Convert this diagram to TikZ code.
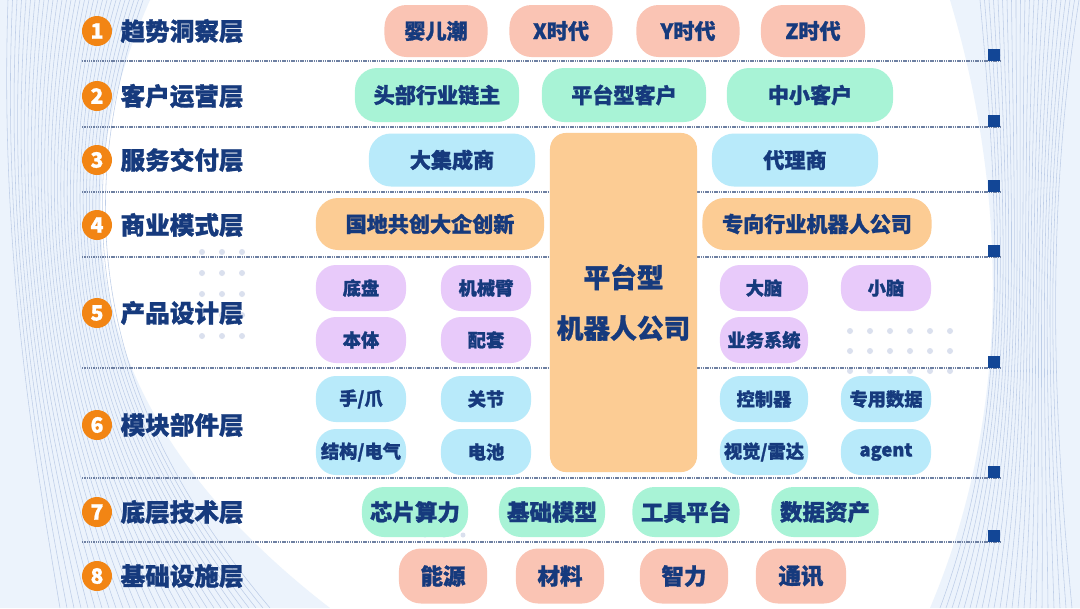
\documentclass[tikz,border=0pt]{standalone}
\usepackage{fontspec}
\setmainfont{Noto Sans CJK SC}[BoldFeatures={FakeBold=1.2}]
\usepackage{tikz}
\usetikzlibrary{positioning}
\definecolor{mynavy}{RGB}{22,58,125}
\definecolor{myorange}{RGB}{242,133,20}
\definecolor{mysalmon}{RGB}{250,196,180}
\definecolor{mymint}{RGB}{168,243,214}
\definecolor{mysky}{RGB}{184,234,250}
\definecolor{mypeach}{RGB}{252,204,148}
\definecolor{mylilac}{RGB}{232,202,250}
\definecolor{mysep}{RGB}{110,128,162}
\definecolor{mysquare}{RGB}{18,70,150}
\definecolor{mydeco}{RGB}{236,243,252}
\definecolor{mydecoline}{RGB}{190,206,232}
\definecolor{mydot}{RGB}{218,224,238}
\tikzset{
  numcirc/.style={circle, fill=myorange, text=white, minimum size=0.75cm,
    inner sep=0pt, font=\fontsize{15pt}{15pt}\selectfont\bfseries},
  layertext/.style={inner sep=0pt, text=mynavy,
    font=\fontsize{17.5pt}{20pt}\selectfont\bfseries},
  pill/.style={rectangle, rounded corners=0.55cm, minimum height=1.3cm,
    inner sep=0pt, text=mynavy, font=\fontsize{15pt}{18pt}\selectfont\bfseries},
  small/.style={pill, rounded corners=0.5cm, minimum width=2.25cm,
    minimum height=1.15cm, font=\fontsize{13pt}{15pt}\selectfont\bfseries},
  core/.style={rectangle, rounded corners=0.4cm, fill=mypeach, inner sep=0pt,
    minimum width=3.675cm, minimum height=8.475cm, align=center, text=mynavy,
    font=\fontsize{19pt}{36pt}\selectfont\bfseries},
  sepline/.style={mysep, line width=0.9pt, dash pattern=on 1pt off 0.6pt},
  decoline/.style={mydecoline, line width=0.4pt}
}

\begin{document}
\begin{tikzpicture}[x=0.025cm, y=-0.025cm]
  \useasboundingbox (0,0) rectangle (1080,608);

  % Background
  \fill[white] (0,0) rectangle (1080,608);
  \fill[mydeco] (0,0) -- (150,0) .. controls (70,180) and (60,400) .. (330,608) -- (0,608) -- cycle;
  \fill[mydeco] (1080,0) -- (950,0) .. controls (1010,200) and (1010,420) .. (930,608) -- (1080,608) -- cycle;
  \foreach \i in {0,...,30}
    \draw[decoline] (8+\i*4.5,0) .. controls (\i*2,240) and (30+\i*3,430) .. (60+\i*7,608);
  \foreach \i in {0,...,22}
    \draw[decoline] (980+\i*4.5,0) .. controls (1000+\i*2,220) and (1010+\i*2,420) .. (940+\i*6,608);

  % Dot grids
  \foreach \i in {0,1,2}
    \foreach \j in {0,...,4}
      \fill[mydot] (202+\i*20,252+\j*21) circle (3);
  \foreach \i in {0,...,5}
    \foreach \j in {0,1,2}
      \fill[mydot] (850+\i*20,331+\j*20) circle (3);
  \foreach \i in {0,1,2}
    \foreach \j in {0,...,4}
      \fill[mydot] (425+\i*19,514+\j*21) circle (2.5);

  % Separators
  \foreach \y in {61,127,192,257,368,478,542} {
    \draw[sepline] (82,\y) -- (1000,\y);
    \fill[mysquare] (988,\y) rectangle (1000,\y-12);
  }

  % Layer labels
  \foreach \n/\t/\y in {1/趋势洞察层/31, 2/客户运营层/96, 3/服务交付层/160,
      4/商业模式层/225, 5/产品设计层/313, 6/模块部件层/425, 7/底层技术层/512,
      8/基础设施层/576} {
    \node[numcirc] (n\n) at (97,\y) {\n};
    \node[layertext, right=0.2cm of n\n] (l\n) {\t};
  }

  % Core
  \node[core] (core) at (623.5,302.5) {平台型\\机器人公司};

  % Row 1
  \node[pill, fill=mysalmon, minimum width=2.575cm] (boom) at (436,31) {婴儿潮};
  \node[pill, fill=mysalmon, minimum width=2.575cm] (genx) at (561,31) {X时代};
  \node[pill, fill=mysalmon, minimum width=2.575cm] (geny) at (688,31) {Y时代};
  \node[pill, fill=mysalmon, minimum width=2.6cm] (genz) at (813,31) {Z时代};

  % Row 2
  \node[pill, fill=mymint, minimum width=4.1cm, minimum height=1.35cm] (chain) at (437,95) {头部行业链主};
  \node[pill, fill=mymint, minimum width=4.1cm, minimum height=1.35cm] (platc) at (624,95) {平台型客户};
  \node[pill, fill=mymint, minimum width=4.15cm, minimum height=1.35cm] (smec) at (810,95) {中小客户};

  % Row 3
  \node[pill, fill=mysky, minimum width=4.15cm, minimum height=1.325cm] (integ) at (452,160) {大集成商};
  \node[pill, fill=mysky, minimum width=4.15cm, minimum height=1.325cm] (agency) at (795,160) {代理商};

  % Row 4
  \node[pill, fill=mypeach, minimum width=5.7cm] (jointv) at (430,224) {国地共创大企创新};
  \node[pill, fill=mypeach, minimum width=5.725cm] (vert) at (817,224) {专向行业机器人公司};

  % Row 5
  \node[small, fill=mylilac] (chassis) at (361,288) {底盘};
  \node[small, fill=mylilac] (arm) at (486,288) {机械臂};
  \node[small, fill=mylilac] (body) at (361,340) {本体};
  \node[small, fill=mylilac] (kit) at (486,340) {配套};
  \node[small, fill=mylilac, minimum width=2.2cm] (brain) at (764,288) {大脑};
  \node[small, fill=mylilac] (cereb) at (886,288) {小脑};
  \node[small, fill=mylilac, minimum width=2.2cm] (bizsys) at (764,340) {业务系统};

  % Row 6
  \node[small, fill=mysky] (hand) at (361,399) {手/爪};
  \node[small, fill=mysky] (joint) at (486,399) {关节};
  \node[small, fill=mysky] (struct) at (361,452) {结构/电气};
  \node[small, fill=mysky] (batt) at (486,452) {电池};
  \node[small, fill=mysky, minimum width=2.2cm] (ctrl) at (764,399) {控制器};
  \node[small, fill=mysky] (sdata) at (886,399) {专用数据};
  \node[small, fill=mysky, minimum width=2.2cm] (vision) at (764,452) {视觉/雷达};
  \node[small, fill=mysky] (agent) at (886,452) {agent};

  % Row 7
  \node[pill, fill=mymint, minimum width=2.65cm, minimum height=1.25cm, font=\fontsize{16pt}{18pt}\selectfont\bfseries] (chip) at (415,512) {芯片算力};
  \node[pill, fill=mymint, minimum width=2.65cm, minimum height=1.25cm, font=\fontsize{16pt}{18pt}\selectfont\bfseries] (model) at (552,512) {基础模型};
  \node[pill, fill=mymint, minimum width=2.675cm, minimum height=1.25cm, font=\fontsize{16pt}{18pt}\selectfont\bfseries] (tools) at (686,512) {工具平台};
  \node[pill, fill=mymint, minimum width=2.675cm, minimum height=1.25cm, font=\fontsize{16pt}{18pt}\selectfont\bfseries] (asset) at (825,512) {数据资产};

  % Row 8
  \node[pill, fill=mysalmon, minimum width=2.2cm, minimum height=1.375cm, font=\fontsize{16pt}{18pt}\selectfont\bfseries] (energy) at (443,576) {能源};
  \node[pill, fill=mysalmon, minimum width=2.2cm, minimum height=1.375cm, font=\fontsize{16pt}{18pt}\selectfont\bfseries] (mater) at (560,576) {材料};
  \node[pill, fill=mysalmon, minimum width=2.2cm, minimum height=1.375cm, font=\fontsize{16pt}{18pt}\selectfont\bfseries] (talent) at (684,576) {智力};
  \node[pill, fill=mysalmon, minimum width=2.25cm, minimum height=1.375cm, font=\fontsize{16pt}{18pt}\selectfont\bfseries] (comms) at (801,576) {通讯};
\end{tikzpicture}
\end{document}
